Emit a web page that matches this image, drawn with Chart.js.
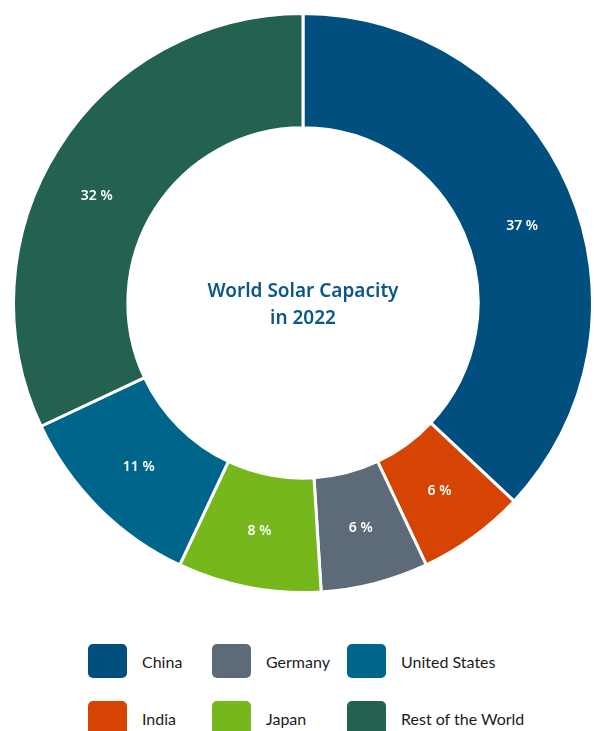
<!DOCTYPE html>
<html>
<head>
<meta charset="utf-8">
<script src="https://cdn.jsdelivr.net/npm/chart.js@4"></script>
<style>
	html, body { margin: 0; padding: 0; background: #ffffff; }
	body { width: 594px; height: 731px; position: relative; overflow: hidden; font-family: "Noto Sans", "Open Sans", sans-serif; }
	#wrap { position: absolute; left: 0; top: 0; width: 594px; height: 606px; }
	#legend { position: absolute; left: 0; top: 644px; width: 594px; }
	.item { position: absolute; height: 34px; display: flex; align-items: center; font-family: Lato, "Noto Sans", sans-serif; font-size: 16px; color: #1b1b1b; }
	.box { width: 39px; height: 34px; border-radius: 5px; margin-right: 15px; flex: none; }
</style>
</head>
<body>
<div id="wrap"><canvas id="solar"></canvas></div>
<div id="legend"></div>
<script>
// Share of world solar capacity, 2022 (clockwise from 12 o'clock).
var countries = [ 'China', 'India', 'Germany', 'Japan', 'United States', 'Rest of the World' ];
var shares    = [ 37, 6, 6, 8, 11, 32 ];
var colors    = [ '#004f7f', '#d64403', '#5d6b79', '#76b81c', '#00658a', '#236150' ];

// Legend grid: column-major order, three columns of two rows.
var legendOrder = [ 'China', 'India', 'Germany', 'Japan', 'United States', 'Rest of the World' ];
var legendCols  = [ 88, 212, 347 ];

// Percent labels in the middle of each ring segment.
// The two big segments get their label turned a few degrees off centre.
var labelNudgeDeg = { 0: 4, 5: -5 };

var sliceLabels = {
	id: 'sliceLabels',
	afterDatasetsDraw: function ( chart ) {
		var ctx  = chart.ctx;
		var meta = chart.getDatasetMeta( 0 );
		ctx.save();
		ctx.fillStyle = '#ffffff';
		ctx.font = '600 14px "Noto Sans", sans-serif';
		ctx.textAlign = 'center';
		ctx.textBaseline = 'middle';
		meta.data.forEach( function ( arc, i ) {
			var p   = arc.getProps( [ 'x', 'y', 'startAngle', 'endAngle', 'innerRadius', 'outerRadius' ] );
			var mid = ( p.startAngle + p.endAngle ) / 2 + ( labelNudgeDeg[ i ] || 0 ) * Math.PI / 180;
			var r   = ( p.innerRadius + p.outerRadius ) / 2;
			ctx.fillText( shares[ i ] + ' %', p.x + Math.cos( mid ) * r, p.y + Math.sin( mid ) * r );
		} );
		ctx.restore();
	}
};

// Title written inside the hole.
var centerTitle = {
	id: 'centerTitle',
	afterDraw: function ( chart ) {
		var ctx = chart.ctx;
		var a   = chart.chartArea;
		var cx  = ( a.left + a.right ) / 2;
		var cy  = ( a.top + a.bottom ) / 2;
		ctx.save();
		ctx.fillStyle = '#0b5787';
		ctx.font = '600 19px "Noto Sans", sans-serif';
		ctx.textAlign = 'center';
		ctx.textBaseline = 'middle';
		ctx.fillText( 'World Solar Capacity', cx, cy - 11 );
		ctx.fillText( 'in 2022', cx, cy + 16 );
		ctx.restore();
	}
};

new Chart( document.getElementById( 'solar' ), {
	type: 'doughnut',
	data: {
		labels: countries,
		datasets: [
			{
				data: shares,
				backgroundColor: colors,
				borderColor: '#ffffff',
				borderWidth: 3,
				hoverOffset: 0,
			},
		],
	},
	plugins: [ sliceLabels, centerTitle ],
	options: {
		responsive: true,
		maintainAspectRatio: false,
		animation: false,
		cutout: '60.5%',
		layout: { padding: { left: 12, right: 0, top: 12, bottom: 12 } },
		plugins: {
			legend: { display: false },
			tooltip: { enabled: false },
		},
	},
} );

// HTML legend
var legend = document.getElementById( 'legend' );
legendOrder.forEach( function ( name, k ) {
	var col  = Math.floor( k / 2 );
	var row  = k % 2;
	var idx  = countries.indexOf( name );
	var item = document.createElement( 'div' );
	item.className = 'item';
	item.style.left = legendCols[ col ] + 'px';
	item.style.top  = ( row * 57 ) + 'px';
	var box = document.createElement( 'span' );
	box.className = 'box';
	box.style.background = colors[ idx ];
	item.appendChild( box );
	item.appendChild( document.createTextNode( name ) );
	legend.appendChild( item );
} );
</script>
</body>
</html>
